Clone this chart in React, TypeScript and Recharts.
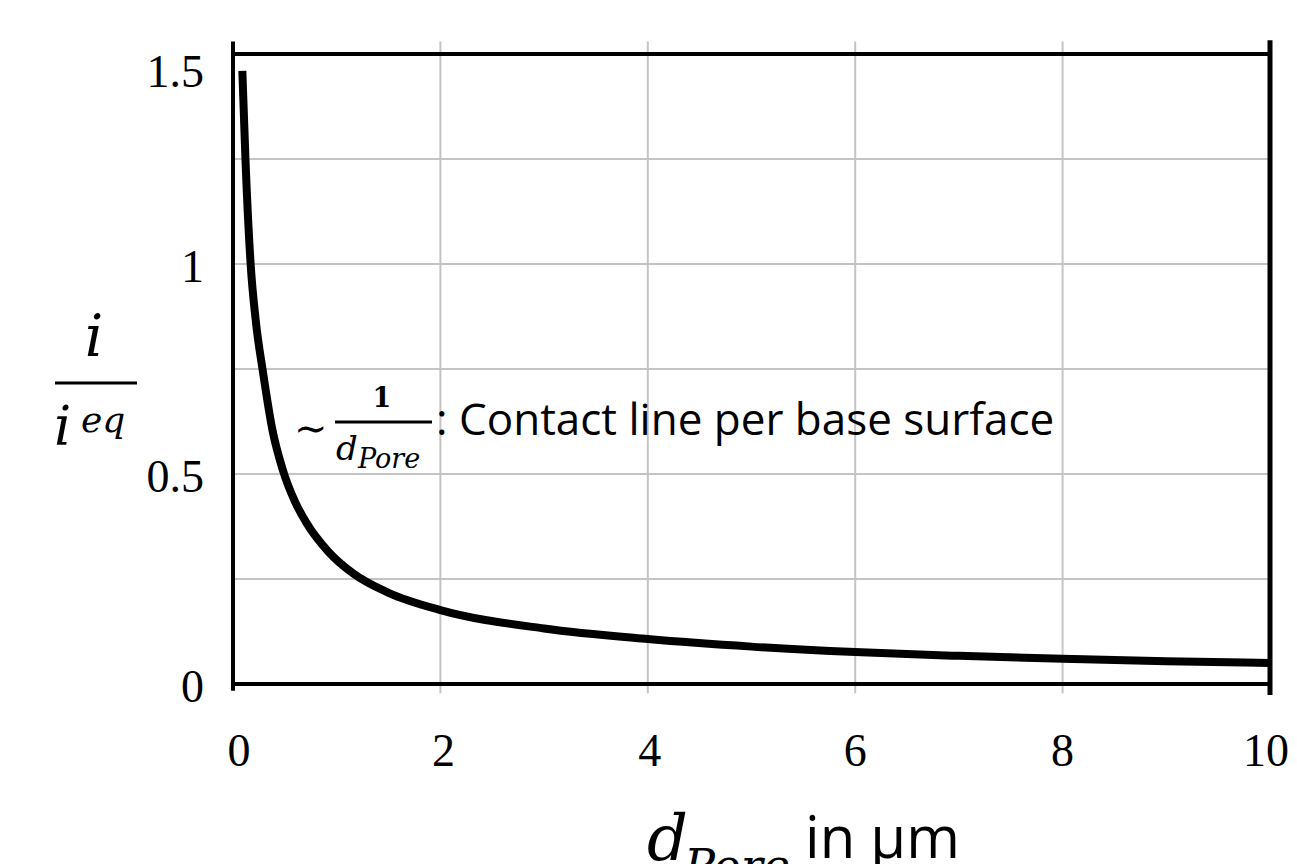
import React from "react";
import { LineChart, Line, XAxis, YAxis, ReferenceLine } from "recharts";

const dPore = [0.09, 0.12, 0.17, 0.22, 0.29, 0.38, 0.48, 0.6, 0.71, 0.92, 1.16, 1.5, 2, 3, 4, 5, 6, 7, 8, 9, 10];
const ratio = [1.46, 1.25, 1.0, 0.864, 0.741, 0.605, 0.51, 0.433, 0.383, 0.315, 0.263, 0.217, 0.176, 0.132, 0.107, 0.089, 0.076, 0.067, 0.06, 0.0544, 0.05];
const xTicks = [0, 2, 4, 6, 8, 10];
const yTicks = [0, 0.5, 1, 1.5];
const xGrid = [2, 4, 6, 8];
const yGrid = [0.25, 0.5, 0.75, 1, 1.25];

const data = dPore.map((x, i) => ({ x, y: ratio[i] }));

const W = 1289;
const H = 856;
const SERIF = "'Liberation Serif', 'DejaVu Serif', serif";
const MATH = "'DejaVu Serif', 'Liberation Serif', serif";
const SANS = "'Open Sans', 'Noto Sans', sans-serif";

const xShift: Record<number, number> = { 0: 6, 2: 3, 4: 2, 6: 0, 8: 0, 10: -4 };

const XTick = (props: any) => {
  const { x, y, payload } = props;
  return (
    <text x={x + (xShift[payload.value] ?? 0)} y={y + 82} textAnchor="middle" fontFamily={SERIF} fontSize={46} fill="#000">
      {payload.value}
    </text>
  );
};

const YTick = (props: any) => {
  const { x, y, payload } = props;
  const dy = payload.value === 1.5 ? 33 : 18;
  return (
    <text x={x - 29} y={y + dy} textAnchor="end" fontFamily={SERIF} fontSize={46} fill="#000">
      {payload.value}
    </text>
  );
};

export default function App() {
  return (
    <div style={{ position: "relative", width: W, height: H }}>
      <LineChart width={W} height={H} data={data} margin={{ top: 46, right: 27, bottom: 0, left: 0 }}>
        <XAxis
          dataKey="x"
          type="number"
          domain={[0, 10]}
          ticks={xTicks}
          axisLine={false}
          tickLine={false}
          tickSize={0}
          tickMargin={0}
          height={180}
          tick={<XTick />}
          allowDataOverflow
          interval={0}
        />
        <YAxis
          type="number"
          domain={[0, 1.5]}
          ticks={yTicks}
          axisLine={false}
          tickLine={false}
          tickSize={0}
          tickMargin={0}
          width={225}
          tick={<YTick />}
          allowDataOverflow
          interval={0}
        />
        {yGrid.map((v) => (
          <ReferenceLine key={"gy" + v} y={v} stroke="#c4c4c4" strokeWidth={2} />
        ))}
        {xGrid.map((v) => (
          <ReferenceLine
            key={"gx" + v}
            segment={[{ x: v, y: -0.022 }, { x: v, y: 1.53 }]}
            stroke="#c4c4c4"
            strokeWidth={2}
            ifOverflow="visible"
          />
        ))}
        <ReferenceLine segment={[{ x: 0, y: 1.5 }, { x: 10, y: 1.5 }]} stroke="#000" strokeWidth={4} ifOverflow="visible" />
        <ReferenceLine segment={[{ x: 0, y: 0 }, { x: 10, y: 0 }]} stroke="#000" strokeWidth={4} ifOverflow="visible" />
        <ReferenceLine segment={[{ x: 0, y: -0.016 }, { x: 0, y: 1.53 }]} stroke="#000" strokeWidth={4} ifOverflow="visible" />
        <ReferenceLine segment={[{ x: 10, y: -0.026 }, { x: 10, y: 1.533 }]} stroke="#000" strokeWidth={5} ifOverflow="visible" />
        <Line
          dataKey="y"
          type="monotone"
          stroke="#000"
          strokeWidth={8}
          dot={false}
          isAnimationActive={false}
        />
      </LineChart>
      <svg
        width={W}
        height={H}
        style={{ position: "absolute", left: 0, top: 0, pointerEvents: "none" }}
      >
        {/* y-axis label: i / i^eq */}
        <text x={86} y={348} textAnchor="middle" fontFamily={MATH} fontStyle="italic" fontSize={58}>i</text>
        <line x1={47} x2={129} y1={375} y2={375} stroke="#000" strokeWidth={3} />
        <text x={46} y={437} fontFamily={MATH} fontStyle="italic" fontSize={54}>i</text>
        <text x={73} y={424} fontFamily={MATH} fontStyle="italic" fontSize={36}>eq</text>

        {/* annotation */}
        <text x={286} y={434} fontFamily={MATH} fontSize={40}>∼</text>
        <text x={374} y={399} textAnchor="middle" fontFamily={MATH} fontSize={27} fontWeight="bold">1</text>
        <line x1={327} x2={424} y1={414} y2={414} stroke="#000" strokeWidth={3} />
        <text x={328} y={452} fontFamily={MATH} fontStyle="italic" fontSize={34}>d</text>
        <text x={350} y={460} fontFamily={MATH} fontStyle="italic" fontSize={27}>Pore</text>
        <text x={428} y={427} fontFamily={SANS} fontSize={44}>: Contact line per base surface</text>

        {/* x-axis label */}
        <text x={639} y={852} fontFamily={MATH} fontStyle="italic" fontSize={64}>d</text>
        <text x={676} y={874} fontFamily={MATH} fontStyle="italic" fontSize={46}>Pore</text>
        <text x={797} y={850} fontFamily={SANS} fontSize={58}>in µm</text>
      </svg>
    </div>
  );
}
